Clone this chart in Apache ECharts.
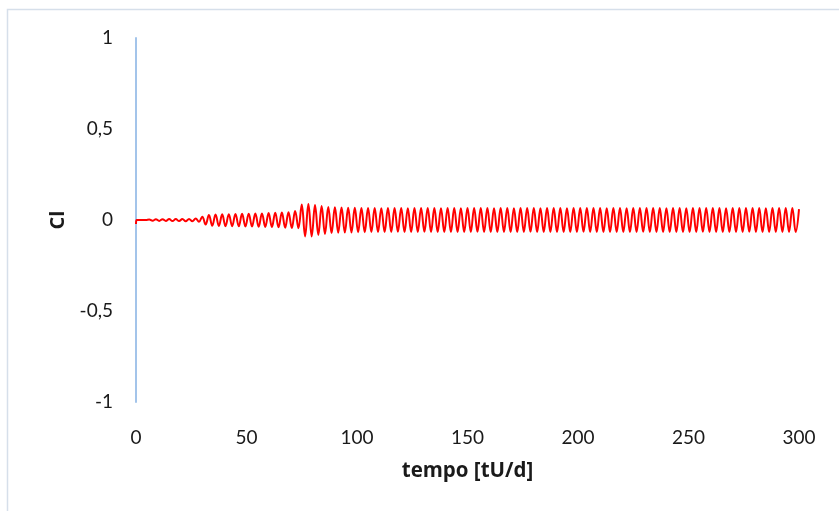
<!DOCTYPE html>
<html>
<head>
<meta charset="utf-8">
<script src="https://cdn.jsdelivr.net/npm/echarts@6/dist/echarts.min.js"></script>
<style>
html,body{margin:0;padding:0;background:#fff;}
#chart{width:839px;height:511px;}
</style>
</head>
<body>
<div id="chart"></div>
<script>
// x values (tempo [tU/d]) of the sampled turning points of the trace
var tempo = [
  0, 0.3, 4.5,
  6, 7.5, 9, 10.5, 12, 13.5, 15, 16.5, 18, 19.5,
  21, 22.5, 24, 25.5, 27, 28.5, 30, 31.5, 33, 34.5,
  36, 37.5, 39, 40.5, 42, 43.5, 45, 46.5, 48, 49.5,
  51, 52.5, 54, 55.5, 57, 58.5, 60, 61.5, 63, 64.5,
  66, 67.5, 69, 70.5, 72, 73.5, 75, 76.5, 78, 79.5,
  81, 82.5, 84, 85.5, 87, 88.5, 90, 91.5, 93, 94.5,
  96, 97.5, 99, 100.5, 102, 103.5, 105, 106.5, 108, 109.5,
  111, 112.5, 114, 115.5, 117, 118.5, 120, 121.5, 123, 124.5,
  126, 127.5, 129, 130.5, 132, 133.5, 135, 136.5, 138, 139.5,
  141, 142.5, 144, 145.5, 147, 148.5, 150, 151.5, 153, 154.5,
  156, 157.5, 159, 160.5, 162, 163.5, 165, 166.5, 168, 169.5,
  171, 172.5, 174, 175.5, 177, 178.5, 180, 181.5, 183, 184.5,
  186, 187.5, 189, 190.5, 192, 193.5, 195, 196.5, 198, 199.5,
  201, 202.5, 204, 205.5, 207, 208.5, 210, 211.5, 213, 214.5,
  216, 217.5, 219, 220.5, 222, 223.5, 225, 226.5, 228, 229.5,
  231, 232.5, 234, 235.5, 237, 238.5, 240, 241.5, 243, 244.5,
  246, 247.5, 249, 250.5, 252, 253.5, 255, 256.5, 258, 259.5,
  261, 262.5, 264, 265.5, 267, 268.5, 270, 271.5, 273, 274.5,
  276, 277.5, 279, 280.5, 282, 283.5, 285, 286.5, 288, 289.5,
  291, 292.5, 294, 295.5, 297, 298.5, 300
];
// Cl values
var cl = [
  -0.022, 0, 0,
  0.003, -0.004, 0.004, -0.005, 0.004, -0.005, 0.005, -0.006, 0.005, -0.006,
  0.006, -0.007, 0.006, -0.007, 0.008, -0.010,
  0.018, -0.025, 0.028, -0.032, 0.030, -0.033, 0.031, -0.034, 0.032, -0.034,
  0.033, -0.035, 0.034, -0.036, 0.035, -0.036, 0.036, -0.037, 0.036, -0.038,
  0.038, -0.038, 0.040, -0.040, 0.041, -0.042, 0.043, -0.044, 0.050, -0.045,
  0.085, -0.090, 0.088, -0.090, 0.082, -0.082, 0.077, -0.077, 0.072, -0.072,
  0.070, -0.070, 0.068, -0.069, 0.067, -0.068, 0.067, -0.067, 0.066, -0.067,
  0.066, -0.066, 0.066, -0.066, 0.065, -0.066, 0.066, -0.066, 0.066, -0.065,
  0.066, -0.066, 0.065, -0.066, 0.066, -0.066, 0.066, -0.065, 0.066, -0.066,
  0.066, -0.066, 0.065, -0.066, 0.066, -0.066, 0.066, -0.066, 0.065, -0.066,
  0.066, -0.066, 0.066, -0.065, 0.066, -0.066, 0.066, -0.066, 0.065, -0.066,
  0.066, -0.066, 0.066, -0.066, 0.065, -0.066, 0.066, -0.066, 0.066, -0.065,
  0.066, -0.066, 0.065, -0.066, 0.066, -0.066, 0.066, -0.066, 0.066, -0.066,
  0.065, -0.066, 0.066, -0.066, 0.066, -0.065, 0.066, -0.066, 0.066, -0.066,
  0.066, -0.066, 0.065, -0.066, 0.066, -0.066, 0.066, -0.066, 0.065, -0.066,
  0.066, -0.066, 0.066, -0.065, 0.066, -0.066, 0.066, -0.066, 0.066, -0.066,
  0.065, -0.066, 0.066, -0.066, 0.066, -0.066, 0.065, -0.066, 0.066, -0.066,
  0.066, -0.065, 0.066, -0.066, 0.066, -0.066, 0.066, -0.066, 0.065, -0.066,
  0.066, -0.066, 0.066, -0.066, 0.066, -0.065, 0.066, -0.066, 0.066, -0.066,
  0.065, -0.066, 0.066, -0.066, 0.066, -0.066, 0.066, -0.066, 0.066, -0.066,
  0.060
];
var xTicks = [0, 50, 100, 150, 200, 250, 300];
var yTicks = [-1, -0.5, 0, 0.5, 1];

var points = tempo.map(function (t, i) { return [t, cl[i]]; });
var fontFam = 'Lato, "Open Sans", sans-serif';
var titleFam = '"Open Sans", Lato, sans-serif';

var chart = echarts.init(document.getElementById('chart'), null, {renderer: 'canvas'});
chart.setOption({
  animation: false,
  backgroundColor: '#ffffff',
  graphic: [{
    type: 'rect',
    shape: {x: 7.5, y: 9.5, width: 1000, height: 1000},
    style: {fill: 'none', stroke: '#d6dfea', lineWidth: 1.5},
    silent: true
  }],
  grid: {left: 136, right: 40, top: 38, bottom: 109, containLabel: false},
  xAxis: {
    type: 'value',
    min: xTicks[0], max: xTicks[xTicks.length - 1], interval: 50,
    name: 'tempo [tU/d]',
    nameLocation: 'middle', nameGap: 59,
    nameTextStyle: {fontFamily: titleFam, fontWeight: 'bold', fontSize: 20.5, color: '#1a1a1a'},
    axisLine: {show: false},
    axisTick: {show: false},
    splitLine: {show: false},
    axisLabel: {margin: 26, fontFamily: fontFam, fontSize: 19, color: '#1a1a1a'}
  },
  yAxis: {
    type: 'value',
    min: yTicks[0], max: yTicks[yTicks.length - 1], interval: 0.5,
    name: 'Cl',
    nameLocation: 'middle', nameGap: 67,
    nameTextStyle: {fontFamily: titleFam, fontWeight: 'bold', fontSize: 20, color: '#1a1a1a'},
    axisLine: {show: true, onZero: false, lineStyle: {color: '#a3c4ea', width: 2}},
    axisTick: {show: false},
    splitLine: {show: false},
    axisLabel: {
      margin: 23, fontFamily: fontFam, fontSize: 19, color: '#1a1a1a',
      formatter: function (v) { return String(v).replace('.', ','); }
    }
  },
  series: [{
    type: 'line',
    data: points,
    showSymbol: false,
    smooth: 0.4,
    lineStyle: {color: '#ff0000', width: 2},
    z: 3
  }]
});
</script>
</body>
</html>
